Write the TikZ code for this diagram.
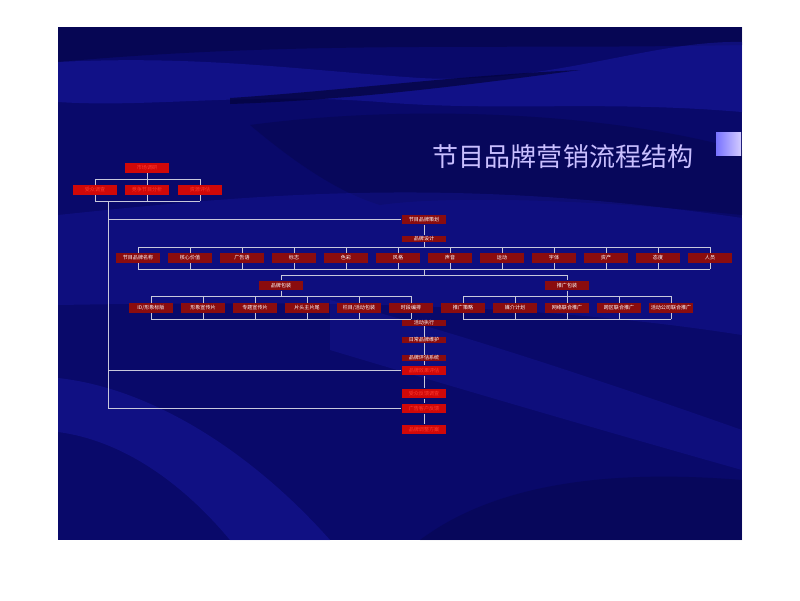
\documentclass[tikz,border=0pt]{standalone}
\usepackage{fontspec}
\newfontfamily\cjk{Noto Sans CJK SC}
\usetikzlibrary{positioning}
\definecolor{slidebg}{HTML}{09096A}
\definecolor{waveblue}{HTML}{1E1EB4}
\definecolor{deepnavy}{HTML}{03033A}
\definecolor{boxred}{HTML}{8A0C0E}
\definecolor{glowred}{HTML}{D00808}
\definecolor{glowtext}{HTML}{FF3B30}
\definecolor{linegray}{HTML}{C8C8DC}
\definecolor{titlelav}{HTML}{C9BFFF}
\pgfdeclarelayer{back}
\pgfdeclarelayer{wires}
\pgfsetlayers{back,wires,main}
\tikzset{
  orgbox/.style={fill=boxred, text=white, inner sep=0pt, minimum width=1.12cm,
    minimum height=0.24cm, font=\cjk\fontsize{3.6}{4}\selectfont},
  slimbox/.style={orgbox, minimum height=0.15cm},
  glowbox/.style={orgbox, fill=glowred, text=glowtext},
  wire/.style={draw=linegray, line width=0.5pt},
  headline/.style={text=titlelav, inner sep=0pt, font=\cjk\fontsize{18.5}{20}\selectfont},
}

\begin{document}
\begin{tikzpicture}[x=0.025cm,y=-0.025cm]
  \useasboundingbox (0,0) rectangle (800,600);

  \node[glowbox] (survey) at (147,168) {市场调研};
  \node[glowbox] (s1) at (95,190) {受众调查};
  \node[glowbox] (s2) at (147,190) {竞争节目分析};
  \node[glowbox] (s3) at (200,190) {资源评估};

  \node[orgbox] (plan) at (424,219.5) {节目品牌策划};
  \node[slimbox] (design) at (424,238.5) {品牌设计};

  \foreach \name [count=\i] in {节目品牌名称,核心价值,广告语,标志,色彩,风格,声音,运动,字体,资产,态度,人员}
    \node[orgbox] (r\i) at ({138+52*(\i-1)},258) {\name};

  \node[orgbox] (pack) at (281,285.5) {品牌包装};
  \node[orgbox] (promo) at (567,285.5) {推广包装};

  \foreach \name [count=\i] in {ID/形象标版,形象宣传片,专题宣传片,片头主片尾,栏目/活动包装,时段编排}
    \node[orgbox] (p\i) at ({151+52*(\i-1)},308) {\name};
  \foreach \name [count=\i] in {推广策略,媒介计划,网络联合推广,跨区联合推广,活动公司联合推广}
    \node[orgbox] (q\i) at ({463+52*(\i-1)},308) {\name};

  \node[slimbox] (exec) at (424,322.5) {活动执行};
  \node[slimbox] (maint) at (424,340) {日常品牌维护};
  \node[slimbox] (eval) at (424,357.5) {品牌评估系统};

  \node[glowbox] (g1) at (424,370.5) {品牌效果评估};
  \node[glowbox] (g2) at (424,393.5) {受众反馈调查};
  \node[glowbox] (g3) at (424,408.5) {广告客户反馈};
  \node[glowbox] (g4) at (424,429.5) {品牌调整方案};

  \node[headline] (title) at (563,157) {节目品牌营销流程结构};

  \coordinate (stem) at (108,201);
  \coordinate (busA) at (424,247);
  \coordinate (busB) at (424,269);
  \coordinate (busC) at (424,275);
  \coordinate (busD) at (424,296);
  \coordinate (busE) at (424,319);

  \begin{pgfonlayer}{wires}
    \draw[wire] (survey.south) -- (survey.south |- 0,179);
    \draw[wire] (s1.north |- 0,179) -- (s3.north |- 0,179);
    \foreach \n in {s1,s2,s3}
      \draw[wire] (\n.north |- 0,179) -- (\n.south |- stem);
    \draw[wire] (s1.south |- stem) -- (s3.south |- stem);
    \draw[wire] (stem) |- (plan.west);
    \draw[wire] (stem) |- (g1.west);
    \draw[wire] (stem) |- (g3.west);

    \draw[wire] (plan) -- (design);
    \draw[wire] (design.south) -- (busA);
    \draw[wire] (r1.north |- busA) -- (r12.north |- busA);
    \draw[wire] (r1.south |- busB) -- (r12.south |- busB);
    \foreach \i in {1,...,12}
      \draw[wire] (r\i.north |- busA) -- (r\i.south |- busB);

    \draw[wire] (busB) -- (busC);
    \draw[wire] (pack.north |- busC) -- (promo.north |- busC);
    \draw[wire] (pack.north |- busC) -- (pack.north);
    \draw[wire] (promo.north |- busC) -- (promo.north);
    \draw[wire] (pack.south) -- (pack.south |- busD);
    \draw[wire] (promo.south) -- (promo.south |- busD);

    \draw[wire] (p1.north |- busD) -- (p6.north |- busD);
    \draw[wire] (p1.south |- busE) -- (p6.south |- busE);
    \foreach \i in {1,...,6}
      \draw[wire] (p\i.north |- busD) -- (p\i.south |- busE);
    \draw[wire] (q1.north |- busD) -- (q5.north |- busD);
    \draw[wire] (q1.south |- busE) -- (q5.south |- busE);
    \foreach \i in {1,...,5}
      \draw[wire] (q\i.north |- busD) -- (q\i.south |- busE);

    \draw[wire] (exec) -- (g1);
    \draw[wire] (g1) -- (g2);
    \draw[wire] (g2) -- (g3);
    \draw[wire] (g3) -- (g4);
  \end{pgfonlayer}

  \begin{pgfonlayer}{back}
    \fill[white] (0,0) rectangle (800,600);
    \fill[slidebg] (58,27) rectangle (742,540);
    \begin{scope}
      \clip (58,27) rectangle (742,540);
      \fill[deepnavy, opacity=0.45] (58,27) -- (742,27) -- (742,45)
        .. controls (500,50) and (300,40) .. (58,62) -- cycle;
      \fill[waveblue, opacity=0.4] (58,62) .. controls (200,55) and (300,70) .. (420,78)
        .. controls (550,85) and (650,40) .. (742,42) -- (742,112)
        .. controls (600,100) and (500,112) .. (380,102)
        .. controls (250,92) and (150,108) .. (58,102) -- cycle;
      \fill[deepnavy, opacity=0.7] (230,98) .. controls (350,90) and (450,76) .. (580,70)
        .. controls (460,86) and (350,100) .. (230,104) -- cycle;
      \fill[deepnavy, opacity=0.3] (250,125) .. controls (400,105) and (600,110) .. (742,150)
        -- (742,215) .. controls (600,200) and (450,195) .. (380,205)
        .. controls (330,190) and (280,150) .. (250,125) -- cycle;
      \fill[waveblue, opacity=0.28] (58,215) .. controls (250,195) and (450,175) .. (742,218)
        -- (742,335) .. controls (550,305) and (350,300) .. (58,305) -- cycle;
      \fill[waveblue, opacity=0.25] (330,300) .. controls (450,330) and (600,380) .. (742,430)
        -- (742,470) .. controls (600,430) and (430,380) .. (330,350) -- cycle;
      \fill[waveblue, opacity=0.35] (58,378) .. controls (150,388) and (250,450) .. (330,540)
        -- (230,540) .. controls (180,480) and (120,440) .. (58,432) -- cycle;
      \fill[deepnavy, opacity=0.3] (420,540) .. controls (500,480) and (620,470) .. (742,480)
        -- (742,540) -- cycle;
    \end{scope}
    \shade[left color=titlelav!60!blue, right color=titlelav!80] (716,132) rectangle (741,155);
  \end{pgfonlayer}
\end{tikzpicture}
\end{document}
